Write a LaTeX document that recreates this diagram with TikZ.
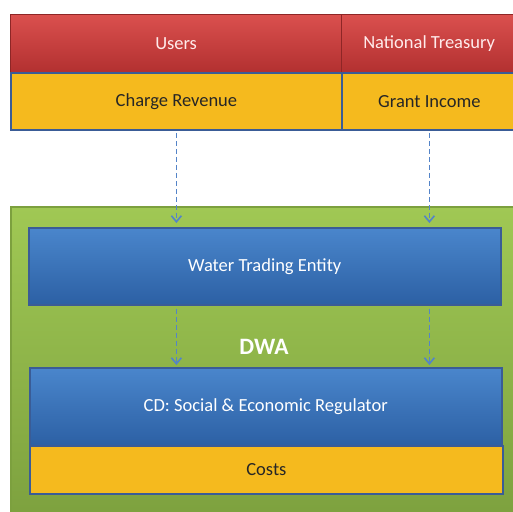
\documentclass[tikz,border=0pt]{standalone}
\usepackage{fontspec}
\setmainfont{Carlito}
\usetikzlibrary{arrows.meta}
\definecolor{redtop}{RGB}{218,80,78}
\definecolor{redbot}{RGB}{178,48,48}
\definecolor{gold}{RGB}{245,186,30}
\definecolor{bluetop}{RGB}{74,134,204}
\definecolor{bluebot}{RGB}{44,96,164}
\definecolor{blueline}{RGB}{58,92,150}
\definecolor{greentop}{RGB}{160,200,84}
\definecolor{greenbot}{RGB}{124,160,62}
\definecolor{flowblue}{RGB}{84,132,200}
\begin{document}
\begin{tikzpicture}[x=1pt,y=-1pt,
    redbox/.style={anchor=north west, top color=redtop, bottom color=redbot,
        draw=redbot!80!black, line width=1.2pt, minimum height=58pt, text=white!92!red,
        font=\fontsize{18.5}{22}\selectfont},
    goldbox/.style={anchor=north west, fill=gold, draw=blueline, line width=1.8pt,
        minimum height=57pt, text=black!85, font=\fontsize{18.5}{22}\selectfont},
    bluebox/.style={anchor=north west, top color=bluetop, bottom color=bluebot,
        draw=blueline, line width=1.5pt, minimum width=472pt, text=white,
        font=\fontsize{18.5}{22}\selectfont},
    flow/.style={-{Straight Barb[length=6pt,width=10pt]}, dash pattern=on 5pt off 3pt,
        flowblue, line width=1.6pt}]
    \clip (0,0) rectangle (513,511);

    % DWA frame
    \node[anchor=north west, top color=greentop, bottom color=greenbot, draw=greenbot,
        line width=1.5pt, minimum width=520pt, minimum height=320pt] (dwa) at (10,206) {};
    \node[text=white, font=\fontsize{23.5}{26}\selectfont\bfseries] (dwalabel) at (264,347) {DWA};

    % sources
    \node[redbox, minimum width=331pt] (users) at (10,14) {Users};
    \node[redbox, minimum width=175pt] (treasury) at (341,14) {National Treasury};
    \node[goldbox, minimum width=331pt] (revenue) at (10,72) {Charge Revenue};
    \node[goldbox, minimum width=175pt] (grant) at (341,72) {Grant Income};

    % entities
    \node[bluebox, minimum height=77pt] (wte) at (28,227) {Water Trading Entity};
    \node[bluebox, minimum height=78pt] (cd) at (29,367) {CD: Social \& Economic Regulator};
    \node[goldbox, minimum width=473pt, minimum height=48pt] (costs) at (29,445) {Costs};

    % flows
    \draw[flow, shorten <=2pt, shorten >=4pt] (revenue.south) -- (revenue.south |- wte.north);
    \draw[flow, shorten <=2pt, shorten >=4pt] (grant.south) -- (grant.south |- wte.north);
    \draw[flow, shorten <=3pt, shorten >=2pt] (wte.south -| revenue.south) -- (cd.north -| revenue.south);
    \draw[flow, shorten <=3pt, shorten >=2pt] (wte.south -| grant.south) -- (cd.north -| grant.south);

\end{tikzpicture}
\end{document}
